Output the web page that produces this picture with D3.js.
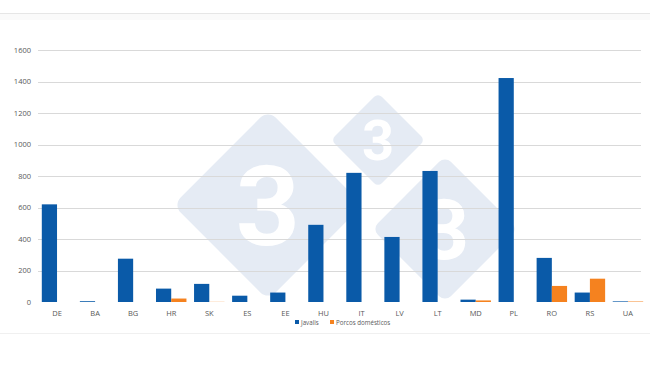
<!DOCTYPE html>
<html>
<head>
<meta charset="utf-8">
<script src="https://cdn.jsdelivr.net/npm/d3@7"></script>
<style>
  body { margin: 0; background: #fff; }
  svg { display: block; font-family: "Open Sans", "Noto Sans", sans-serif; }
</style>
</head>
<body>
<script>
var w = 650;
var h = 366;

var countries = ["DE","BA","BG","HR","SK","ES","EE","HU","IT","LV","LT","MD","PL","RO","RS","UA"];
var javalis = [620, 5, 275, 85, 115, 40, 60, 490, 820, 413, 832, 15, 1422, 280, 60, 4];
var porcos  = [0, 0, 0, 22, 1, 0, 0, 0, 0, 0, 0, 10, 0, 102, 148, 3];
var yTicks = [0, 200, 400, 600, 800, 1000, 1200, 1400, 1600];
var seriesNames = ["Javalis", "Porcos domésticos"];
var colors = ["#0a5aa8", "#f5821f"];

var svg = d3.select("body")
            .append("svg")
            .attr("width", w)
            .attr("height", h);

// frame lines of the embedded picture
svg.append("line").attr("x1", 0).attr("x2", w).attr("y1", 13.5).attr("y2", 13.5)
   .attr("stroke", "#e6e6e6");
svg.append("rect").attr("x", 0).attr("y", 14).attr("width", w).attr("height", 6)
   .attr("fill", "#fafafa");
svg.append("line").attr("x1", 0).attr("x2", w).attr("y1", 333.5).attr("y2", 333.5)
   .attr("stroke", "#f0f0f0");

var x = d3.scaleBand()
          .domain(countries)
          .range([38, 647])
          .paddingInner(0.2)
          .paddingOuter(0.1);

var x1 = d3.scaleBand()
           .domain([0, 1])
           .range([0, x.bandwidth()]);

var y = d3.scaleLinear()
          .domain([0, 1600])
          .range([302, 50]);

// watermark (logo) behind the bars
var marks = [
    {cx: 268, cy: 205, r: 95, fs: 112},
    {cx: 378, cy: 140, r: 47, fs: 56},
    {cx: 445, cy: 229, r: 73, fs: 84}
];
var wm = svg.append("g");
marks.forEach(function(m){
    var s = m.r * Math.SQRT2;
    wm.append("rect")
      .attr("x", m.cx - s/2).attr("y", m.cy - s/2)
      .attr("width", s).attr("height", s)
      .attr("rx", s * 0.08)
      .attr("transform", "rotate(45," + m.cx + "," + m.cy + ")")
      .attr("fill", "#e5ebf4");
});
marks.forEach(function(m){
    wm.append("text")
      .attr("x", m.cx).attr("y", m.cy + m.fs*0.36)
      .attr("text-anchor", "middle")
      .attr("font-size", m.fs)
      .attr("font-weight", "bold")
      .attr("font-family", "Roboto, sans-serif")
      .attr("fill", "#ffffff")
      .text("3");
});

// gridlines
svg.selectAll("line.grid")
   .data(yTicks.slice(1))
   .enter()
   .append("line")
   .attr("class", "grid")
   .attr("x1", 38).attr("x2", 641)
   .attr("y1", function(d){ return Math.round(y(d)) + 0.5; })
   .attr("y2", function(d){ return Math.round(y(d)) + 0.5; })
   .attr("stroke", "#d9d9d9")
   .attr("stroke-width", 1);

// y axis
var yAxis = svg.append("g")
   .attr("transform", "translate(31,0)")
   .call(d3.axisLeft(y).tickValues(yTicks).tickFormat(d3.format("d")).tickSize(0).tickPadding(0));
yAxis.select(".domain").remove();
yAxis.selectAll("text").attr("fill", "#595959").attr("font-size", 7.5)
     .attr("font-family", "Open Sans, sans-serif");

// bars
var groups = svg.selectAll("g.country")
   .data(countries)
   .enter()
   .append("g")
   .attr("class", "country")
   .attr("transform", function(d){ return "translate(" + x(d) + ",0)"; });

groups.append("rect")
   .attr("x", x1(0))
   .attr("width", x1.bandwidth())
   .attr("y", function(d, i){ return y(javalis[i]); })
   .attr("height", function(d, i){ return y(0) - y(javalis[i]); })
   .attr("fill", colors[0]);

groups.append("rect")
   .attr("x", x1(1))
   .attr("width", x1.bandwidth())
   .attr("y", function(d, i){ return y(porcos[i]); })
   .attr("height", function(d, i){ return y(0) - y(porcos[i]); })
   .attr("fill", colors[1]);

// x axis
var xAxis = svg.append("g")
   .attr("transform", "translate(0,302)")
   .call(d3.axisBottom(x).tickSize(0).tickPadding(9));
xAxis.select(".domain").remove();
xAxis.selectAll("text").attr("fill", "#595959").attr("font-size", 7.5)
     .attr("font-family", "Open Sans, sans-serif");

// legend
var legend = svg.append("g").attr("transform", "translate(295,324)");
var lx = [0, 35];
seriesNames.forEach(function(name, i){
    legend.append("rect")
          .attr("x", lx[i]).attr("y", -4)
          .attr("width", 4).attr("height", 4)
          .attr("fill", colors[i]);
    legend.append("text")
          .attr("x", lx[i] + 6).attr("y", 0.5)
          .attr("font-size", 6.2)
          .attr("fill", "#595959")
          .text(name);
});
</script>
</body>
</html>
